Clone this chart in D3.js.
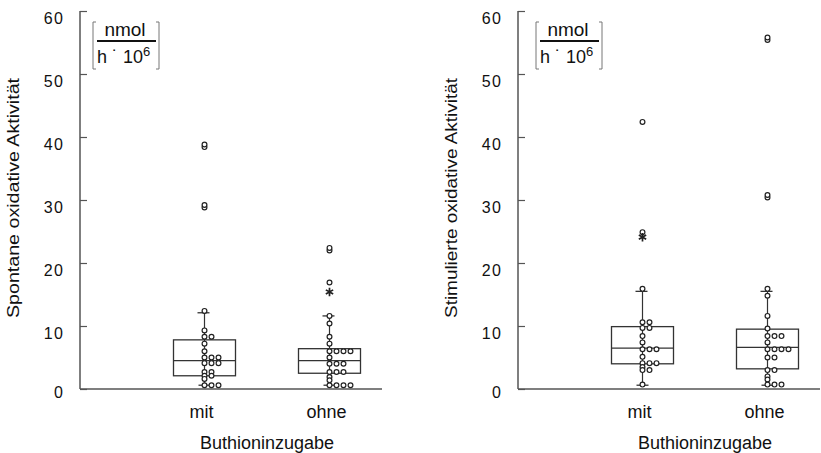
<!DOCTYPE html>
<html>
<meta charset="utf-8">
<style>
body { margin: 0; background: #fff; }
svg { display: block; }
text { font-family: "Liberation Sans", Arial, sans-serif; fill: #111; }
.axis line, .axis path { stroke: #555; }
.box rect, .box line { stroke: #333; fill: none; }
.dot { fill: #fff; stroke: #222; stroke-width: 1.2; }
</style>
<body>
<svg id="chart" width="821" height="453"></svg>
<script src="https://d3js.org/d3.v7.min.js"></script>
<script>
var groups = ["mit", "ohne"];
var yTicks = [0, 10, 20, 30, 40, 50, 60];

// [lower whisker, q1, median, q3, upper whisker]
var spontanStats = [[0.6, 2.1, 4.5, 7.8, 12.1], [0.6, 2.5, 4.5, 6.4, 11.6]];
var spontanDots = [
	[12.4, 9.3, 8.3, 8.3, 7.2, 6.0, 5.0, 5.0, 5.0, 4.1, 4.1, 4.1, 2.7, 2.7, 2.1, 2.1, 1.6, 0.6, 0.6, 0.6],
	[11.6, 10.4, 8.3, 7.2, 6.0, 6.0, 6.0, 6.0, 5.0, 4.0, 4.0, 4.0, 2.7, 2.7, 2.7, 1.9, 1.4, 0.6, 0.6, 0.6, 0.6]
];
var spontanOutliers = [[38.4, 38.8, 28.8, 29.2], [22.0, 22.4, 16.9]];
var spontanExtremes = [[], [15.4]];

var stimStats = [[0.6, 4.0, 6.5, 9.9, 15.5], [0.6, 3.2, 6.6, 9.5, 15.5]];
var stimDots = [
	[15.9, 10.6, 10.6, 9.7, 9.7, 8.4, 7.4, 6.3, 6.3, 6.3, 5.1, 4.1, 4.1, 4.1, 3.5, 3.0, 3.0, 0.7],
	[15.9, 14.8, 11.6, 9.6, 8.4, 8.4, 8.4, 7.4, 6.3, 6.3, 6.3, 6.3, 5.0, 5.0, 3.0, 3.0, 2.0, 1.5, 0.7, 0.7, 0.7]
];
var stimOutliers = [[42.4, 24.9], [55.4, 55.8, 30.4, 30.8]];
var stimExtremes = [[24.1], []];

var svg = d3.select("#chart");

var y = d3.scaleLinear().domain([0, 60]).range([389, 11]);

function panel(x0, unitX, yLabel, stats, dots, outliers, extremes) {
	var g = svg.append("g");
	var x = d3.scaleBand().domain(groups).range([x0 + 62, x0 + 312]);
	var boxW = 62;
	var mid = function(d) { return x(d) + x.bandwidth() / 2; };

	// y axis
	var ya = g.append("g").attr("class", "axis")
		.attr("transform", "translate(" + x0 + ",0)")
		.call(d3.axisRight(y).tickValues(yTicks).tickSize(7).tickFormat(""));
	ya.select(".domain").attr("d", "M0," + y(0) + "V" + y(60)).attr("stroke-width", 1.5);
	ya.selectAll(".tick line").attr("stroke-width", 1.2);

	g.selectAll(".ylab").data(yTicks).enter().append("text")
		.attr("x", x0 - 16)
		.attr("y", function(d) { return y(d) + (d === 0 ? 9 : 13); })
		.attr("text-anchor", "end")
		.style("font-size", "16px")
		.style("letter-spacing", "1.2px")
		.text(function(d) { return d; });

	// x axis line
	g.append("line")
		.attr("x1", x0).attr("x2", x0 + 302)
		.attr("y1", y(0)).attr("y2", y(0))
		.attr("stroke", "#555").attr("stroke-width", 1.5);

	g.selectAll(".xlab").data(groups).enter().append("text")
		.attr("x", function(d) { return mid(d) - 3; })
		.attr("y", 418)
		.attr("text-anchor", "middle")
		.style("font-size", "18px")
		.text(function(d) { return d; });

	g.append("text")
		.attr("x", (mid(groups[0]) + mid(groups[1])) / 2).attr("y", 449)
		.attr("text-anchor", "middle")
		.style("font-size", "18px")
		.text("Buthioninzugabe");

	g.append("text")
		.attr("transform", "translate(" + (x0 - 61) + ",198) rotate(-90)")
		.attr("text-anchor", "middle")
		.attr("textLength", 240)
		.attr("lengthAdjust", "spacingAndGlyphs")
		.style("font-size", "16px")
		.text(yLabel);

	// boxes
	groups.forEach(function(grp, i) {
		var cx = mid(grp);
		var s = stats[i];
		var b = g.append("g").attr("class", "box");
		b.append("line").attr("x1", cx).attr("x2", cx).attr("y1", y(s[0])).attr("y2", y(s[4])).attr("stroke-width", 1.2);
		b.append("line").attr("x1", cx - 7).attr("x2", cx + 5).attr("y1", y(s[4])).attr("y2", y(s[4])).attr("stroke-width", 1.3);
		b.append("line").attr("x1", cx - 6).attr("x2", cx + 6).attr("y1", y(s[0])).attr("y2", y(s[0])).attr("stroke-width", 1.3);
		b.append("rect").attr("x", cx - boxW / 2).attr("y", y(s[3]))
			.attr("width", boxW).attr("height", y(s[1]) - y(s[3])).attr("stroke-width", 1.3);
		b.append("line").attr("x1", cx - boxW / 2).attr("x2", cx + boxW / 2)
			.attr("y1", y(s[2])).attr("y2", y(s[2])).attr("stroke-width", 1.3);

		// dot column: equal values are stacked sideways
		var seen = {};
		var pts = dots[i].map(function(v) {
			var k = seen[v] || 0;
			seen[v] = k + 1;
			return { v: v, k: k };
		});
		g.selectAll(null).data(pts).enter().append("circle")
			.attr("class", "dot")
			.attr("cx", function(d) { return cx + d.k * 7; })
			.attr("cy", function(d) { return y(d.v); })
			.attr("r", 2.4);

		g.selectAll(null).data(outliers[i]).enter().append("circle")
			.attr("class", "dot")
			.attr("cx", cx)
			.attr("cy", function(d) { return y(d); })
			.attr("r", 2.4);

		g.selectAll(null).data(extremes[i]).enter().append("path")
			.attr("d", d3.symbol().type(d3.symbolAsterisk).size(50))
			.attr("transform", function(d) { return "translate(" + cx + "," + y(d) + ")"; })
			.attr("stroke", "#222").attr("stroke-width", 1.7).attr("fill", "none");
	});

	// unit annotation [nmol / h · 10^6]
	var u = g.append("g").attr("transform", "translate(" + unitX + ",0)");
	u.append("path").attr("d", "M3,22H0V69H3").attr("fill", "none").attr("stroke", "#777");
	u.append("path").attr("d", "M63,22H66V69H63").attr("fill", "none").attr("stroke", "#777");
	u.append("text").attr("x", 32).attr("y", 36).attr("text-anchor", "middle")
		.style("font-size", "19px").text("nmol");
	u.append("line").attr("x1", 4).attr("x2", 63).attr("y1", 41).attr("y2", 41)
		.attr("stroke", "#111").attr("stroke-width", 2);
	var t = u.append("text").attr("x", 4).attr("y", 63).style("font-size", "18px");
	t.append("tspan").text("h \u02D9 10");
	t.append("tspan").attr("dy", -7).style("font-size", "13px").text("6");
}

panel(80, 93, "Spontane oxidative Aktivität", spontanStats, spontanDots, spontanOutliers, spontanExtremes);
panel(518, 536, "Stimulierte oxidative Aktivität", stimStats, stimDots, stimOutliers, stimExtremes);
</script>
</body>
</html>
